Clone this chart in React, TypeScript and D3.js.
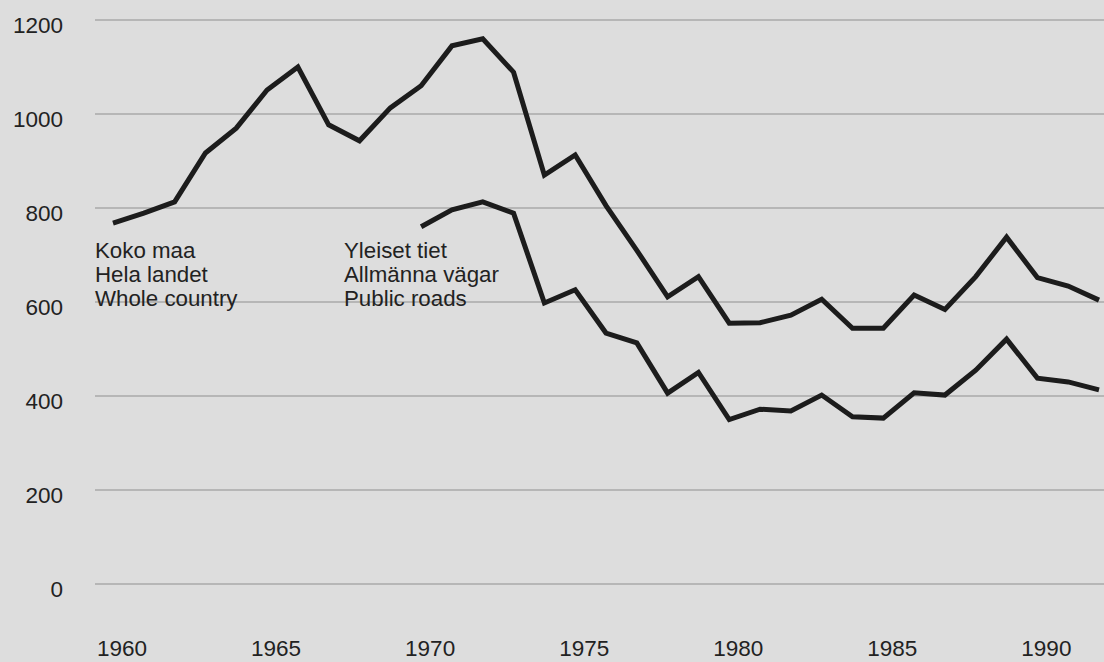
import React from "react";
import * as d3 from "d3";

const years = d3.range(1960, 1993);
const wholeCountry = [768, 789, 813, 917, 970, 1051, 1100, 977, 943, 1013, 1060, 1145, 1160, 1089, 870, 913, 805, 710, 611, 654, 555, 556, 572, 606, 544, 544, 615, 584, 654, 738, 652, 634, 604];
const publicRoadsYears = d3.range(1970, 1993);
const publicRoads = [760, 796, 813, 789, 598, 626, 534, 513, 406, 450, 350, 372, 368, 402, 356, 353, 407, 402, 455, 521, 438, 430, 413];
const yTicks = [0, 200, 400, 600, 800, 1000, 1200];
const xTicks = [1960, 1965, 1970, 1975, 1980, 1985, 1990];
const wholeLabel = ["Koko maa", "Hela landet", "Whole country"];
const roadsLabel = ["Yleiset tiet", "Allmänna vägar", "Public roads"];

const W = 1104;
const H = 662;

export default function App() {
  const x = d3.scaleLinear().domain([1960, 1992]).range([113, 1099]);
  const y = d3.scaleLinear().domain([0, 1200]).range([584, 20]);
  const line = d3
    .line<[number, number]>()
    .x((d) => x(d[0]))
    .y((d) => y(d[1]))
    .curve(d3.curveLinear);
  const wc = years.map((yr, i) => [yr, wholeCountry[i]] as [number, number]);
  const pr = publicRoadsYears.map((yr, i) => [yr, publicRoads[i]] as [number, number]);
  const font = "'Liberation Sans', Arial, Helvetica, sans-serif";
  return (
    <svg
      width={W}
      height={H}
      style={{ position: "absolute", left: 0, top: 0, display: "block" }}
      fontFamily={font}
    >
      <rect x={0} y={0} width={W} height={H} fill="#dddddd" />
      {yTicks.map((t) => (
        <g key={t}>
          <line x1={95} x2={W} y1={y(t)} y2={y(t)} stroke="#a9a9a9" strokeWidth={1.5} />
          <text x={63} y={y(t) + 12.5} textAnchor="end" fontSize={22.5} fill="#222">
            {t}
          </text>
        </g>
      ))}
      {xTicks.map((t) => (
        <text key={t} x={x(t) + 9} y={656} textAnchor="middle" fontSize={22.5} fill="#222">
          {t}
        </text>
      ))}
      <path d={line(wc) || ""} fill="none" stroke="#1c1c1c" strokeWidth={5} strokeLinejoin="miter" />
      <path d={line(pr) || ""} fill="none" stroke="#1c1c1c" strokeWidth={5} strokeLinejoin="miter" />
      {wholeLabel.map((s, i) => (
        <text key={s} x={95} y={258 + i * 24} fontSize={22.3} fill="#222">
          {s}
        </text>
      ))}
      {roadsLabel.map((s, i) => (
        <text key={s} x={344} y={258 + i * 24} fontSize={22.3} fill="#222">
          {s}
        </text>
      ))}
    </svg>
  );
}
